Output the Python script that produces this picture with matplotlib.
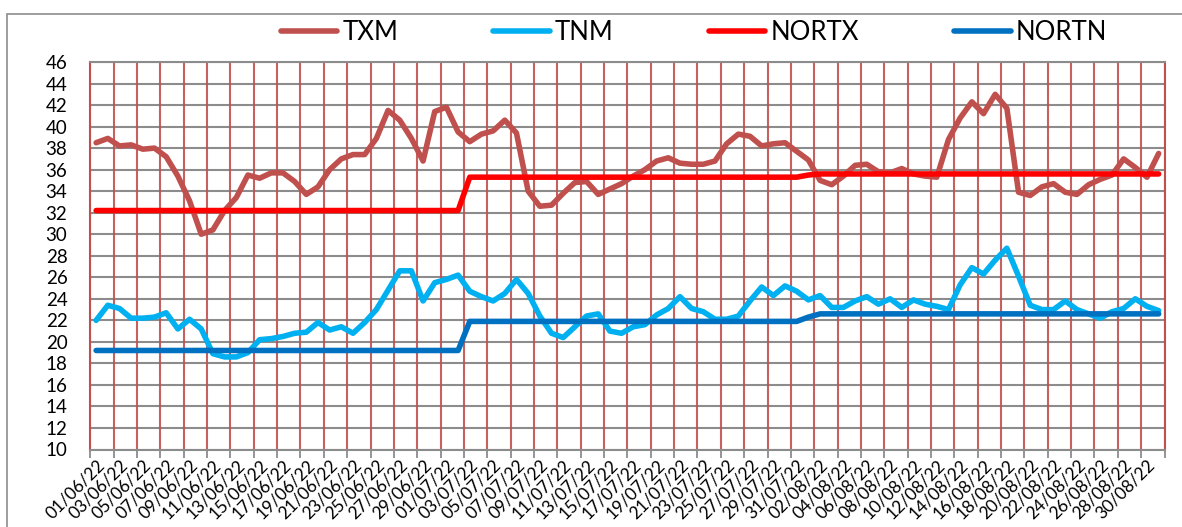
import numpy as np
import pandas as pd
import matplotlib
matplotlib.use("Agg")
import matplotlib.pyplot as plt
from matplotlib.patches import Rectangle

plt.rcParams['font.family'] = ['Lato', 'DejaVu Sans']

dates = pd.date_range("2022-06-01", "2022-08-31", freq="D")
date_labels = [d.strftime("%d/%m/%y") for d in dates]

txm = [38.5, 38.9, 38.2, 38.3, 37.9, 38.0, 37.2, 35.4, 33.1, 30.0,
       30.4, 32.2, 33.4, 35.5, 35.2, 35.7, 35.7, 34.9, 33.7, 34.4,
       36.0, 37.0, 37.4, 37.4, 38.9, 41.5, 40.6, 38.9, 36.8, 41.4,
       41.8, 39.5, 38.6, 39.3, 39.6, 40.6, 39.4, 34.0, 32.6, 32.7,
       33.8, 34.8, 34.9, 33.7, 34.2, 34.7, 35.4, 36.0, 36.8, 37.1,
       36.6, 36.5, 36.5, 36.8, 38.4, 39.3, 39.1, 38.2, 38.4, 38.5,
       37.7, 36.9, 35.0, 34.6, 35.4, 36.4, 36.5, 35.8, 35.7, 36.1,
       35.6, 35.4, 35.3, 38.8, 40.8, 42.3, 41.2, 43.0, 41.7, 33.9,
       33.6, 34.4, 34.7, 33.9, 33.7, 34.6, 35.1, 35.5, 37.0, 36.2,
       35.3, 37.5]

tnm = [22.0, 23.4, 23.1, 22.2, 22.2, 22.3, 22.7, 21.2, 22.1, 21.2,
       18.9, 18.6, 18.6, 19.0, 20.2, 20.3, 20.5, 20.8, 20.9, 21.8,
       21.1, 21.4, 20.8, 21.8, 23.0, 24.8, 26.6, 26.6, 23.8, 25.5,
       25.8, 26.2, 24.7, 24.2, 23.8, 24.5, 25.8, 24.5, 22.4, 20.8,
       20.4, 21.4, 22.4, 22.6, 21.0, 20.8, 21.4, 21.6, 22.5, 23.1,
       24.2, 23.1, 22.8, 22.1, 22.1, 22.4, 23.8, 25.1, 24.3, 25.2,
       24.7, 23.9, 24.3, 23.2, 23.2, 23.8, 24.2, 23.5, 24.0, 23.2,
       23.9, 23.5, 23.3, 23.0, 25.3, 26.9, 26.3, 27.6, 28.7, 26.1,
       23.4, 23.0, 23.0, 23.8, 23.0, 22.6, 22.2, 22.8, 23.1, 24.0,
       23.3, 22.9]

nortx = [32.2] * 32 + [35.3] * 29 + [35.5] + [35.6] * 30
nortn = [19.2] * 32 + [21.9] * 29 + [22.3] + [22.6] * 30

series_names = ["TXM", "TNM", "NORTX", "NORTN"]
series_colors = ["#C0504D", "#00B0F0", "#FF0000", "#0070C0"]
y_ticks = list(range(10, 47, 2))

W, H = 1182, 527
fig = plt.figure(figsize=(W / 100, H / 100), dpi=100)

# outer chart border
fig.patches.append(Rectangle((7 / W, -0.1), 1.2, 1 - 14 / H + 0.1,
                             transform=fig.transFigure, fill=False,
                             edgecolor="#8C8C8C", linewidth=1.2))

x0, x1, ytop, ybot = 90.3, 1164.5, 62, 449.5
ax = fig.add_axes([x0 / W, 1 - ybot / H, (x1 - x0) / W, (ybot - ytop) / H])

n = len(dates)
x = np.arange(n) + 0.5
handles = []
for vals, name, col in zip([txm, tnm, nortx, nortn], series_names, series_colors):
    ln, = ax.plot(x, vals, color=col, lw=4.0, solid_capstyle="round",
                  solid_joinstyle="round", label=name, zorder=3)
    handles.append(ln)

ax.set_xlim(0, n)
ax.set_ylim(10, 46)
ax.set_yticks(y_ticks)
ax.set_yticklabels([str(v) for v in y_ticks])
ax.tick_params(axis="y", length=0, pad=16.5, labelsize=13.5, labelcolor="black")

ax.set_xticks(np.arange(0, n + 1, 2))
ax.set_xticklabels([])
ax.set_xticks(np.arange(0, n, 2) + 0.5, minor=True)
ax.set_xticklabels(date_labels[::2], minor=True, rotation=45, ha="right",
                   va="top", rotation_mode="anchor", fontsize=12.5)
ax.tick_params(axis="x", which="major", length=6, width=1.3, color="#8C8C8C")
ax.tick_params(axis="x", which="minor", length=0, pad=5)

for yv in y_ticks:
    ax.axhline(yv, color="#8C8C8C", lw=1.5, zorder=1)
for xv in np.arange(0, n + 1, 2):
    ax.axvline(xv, color="#C0504D", lw=1.5, zorder=1.5, alpha=0.9)

for s in ["left", "right"]:
    ax.spines[s].set_color("#C0504D")
    ax.spines[s].set_linewidth(1.5)
for s in ["top", "bottom"]:
    ax.spines[s].set_color("#8C8C8C")
    ax.spines[s].set_linewidth(1.5)

fig.legend(handles, series_names, loc="center", bbox_to_anchor=(694 / W, 1 - 32 / H),
           ncol=4, frameon=False, fontsize=18.5, handlelength=2.2,
           handletextpad=0.2, columnspacing=3.7)

fig.savefig("out.png", dpi=100)
